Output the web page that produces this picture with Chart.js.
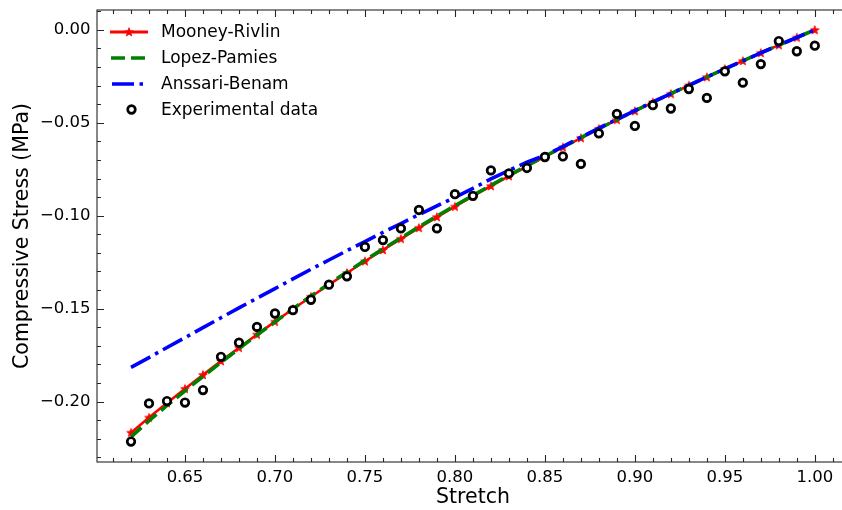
<!DOCTYPE html>
<html>
<head>
<meta charset="utf-8">
<script src="https://cdn.jsdelivr.net/npm/chart.js@4.4.1/dist/chart.umd.min.js"></script>
<style>
  html, body { margin: 0; padding: 0; background: #fff; overflow: hidden; width: 842px; height: 510px; }
  #wrap { width: 852px; height: 510px; }
</style>
</head>
<body>
<div id="wrap"><canvas id="c" width="852" height="510"></canvas></div>
<script>
// ---- data ----
const stretch = [0.62,0.63,0.64,0.65,0.66,0.67,0.68,0.69,0.70,0.71,0.72,0.73,0.74,0.75,0.76,0.77,0.78,0.79,0.80,
                 0.81,0.82,0.83,0.84,0.85,0.86,0.87,0.88,0.89,0.90,0.91,0.92,0.93,0.94,0.95,0.96,0.97,0.98,0.99,1.00];
const experimental = [-0.2215,-0.2010,-0.1997,-0.2005,-0.1938,-0.1759,-0.1683,-0.1598,-0.1526,-0.1508,-0.1452,-0.1371,-0.1326,
                      -0.1168,-0.1131,-0.1068,-0.0969,-0.1068,-0.0884,-0.0893,-0.0756,-0.0772,-0.0743,-0.0684,-0.0681,-0.0721,
                      -0.0557,-0.0452,-0.0517,-0.0405,-0.0423,-0.0318,-0.0366,-0.0223,-0.0284,-0.0184,-0.0060,-0.0115,-0.0085];
const mooneyRivlin = [-0.2167,-0.2086,-0.2008,-0.1931,-0.1856,-0.1782,-0.1710,-0.1639,-0.1570,-0.1502,-0.1436,-0.1371,-0.1308,
                      -0.1245,-0.1184,-0.1124,-0.1065,-0.1007,-0.0951,-0.0895,-0.0840,-0.0787,-0.0734,-0.0682,-0.0632,-0.0582,
                      -0.0532,-0.0484,-0.0437,-0.0390,-0.0344,-0.0299,-0.0254,-0.0210,-0.0167,-0.0124,-0.0082,-0.0041,0.0000];
const lopezPamies = [-0.2190,-0.2103,-0.2021,-0.1942,-0.1865,-0.1789,-0.1715,-0.1642,-0.1571,-0.1501,-0.1432,-0.1366,-0.1303,
                     -0.1240,-0.1179,-0.1119,-0.1060,-0.1002,-0.0946,-0.0891,-0.0836,-0.0783,-0.0731,-0.0680,-0.0630,-0.0580,
                     -0.0531,-0.0483,-0.0436,-0.0389,-0.0343,-0.0298,-0.0254,-0.0210,-0.0167,-0.0124,-0.0082,-0.0041,0.0000];
const anssariBenam = [-0.1816,-0.1763,-0.1709,-0.1656,-0.1602,-0.1549,-0.1496,-0.1444,-0.1392,-0.1340,-0.1288,-0.1238,-0.1188,
                      -0.1139,-0.1090,-0.1042,-0.0994,-0.0947,-0.0901,-0.0853,-0.0802,-0.0756,-0.0712,-0.0675,-0.0628,-0.0578,
                      -0.0529,-0.0481,-0.0434,-0.0388,-0.0343,-0.0298,-0.0253,-0.0210,-0.0167,-0.0124,-0.0082,-0.0041,0.0000];
const xMajorTicks = [0.65,0.70,0.75,0.80,0.85,0.90,0.95,1.00];
const yMajorTicks = [-0.20,-0.15,-0.10,-0.05,0.00];
const xMinorTicks = [0.61,0.62,0.63,0.64,0.66,0.67,0.68,0.69,0.71,0.72,0.73,0.74,0.76,0.77,0.78,0.79,0.81,0.82,0.83,0.84,
                     0.86,0.87,0.88,0.89,0.91,0.92,0.93,0.94,0.96,0.97,0.98,0.99,1.01];
const yMinorTicks = [-0.23,-0.22,-0.21,-0.19,-0.18,-0.17,-0.16,-0.14,-0.13,-0.12,-0.11,-0.09,-0.08,-0.07,-0.06,-0.04,-0.03,-0.02,-0.01,0.01];
const seriesNames = ['Mooney-Rivlin','Lopez-Pamies','Anssari-Benam','Experimental data'];

const FONT = "'DejaVu Sans', sans-serif";

// filled 5-point star marker (matplotlib '*')
function makeStar(color) {
  const c = document.createElement('canvas');
  c.width = 12; c.height = 12;
  const g = c.getContext('2d');
  const R = 4.6, r = 1.9, cx = 6, cy = 6.3;
  g.beginPath();
  for (let i = 0; i < 10; i++) {
    const a = -Math.PI / 2 + i * Math.PI / 5;
    const rr = i % 2 === 0 ? R : r;
    const px = cx + rr * Math.cos(a), py = cy + rr * Math.sin(a);
    if (i === 0) g.moveTo(px, py); else g.lineTo(px, py);
  }
  g.closePath();
  g.fillStyle = color; g.fill();
  g.lineWidth = 0.8; g.strokeStyle = color; g.stroke();
  return c;
}
const starImg = makeStar('#ff0000');

const toXY = arr => stretch.map((x, i) => ({x: x, y: arr[i]}));

const frameTicks = {
  id: 'frameTicks',
  afterDraw(chart) {
    const {ctx, chartArea: a, scales: {x, y}} = chart;
    ctx.save();
    ctx.strokeStyle = '#262626';
    ctx.lineWidth = 1.1;
    ctx.strokeRect(a.left, a.top, a.right - a.left, a.bottom - a.top);
    ctx.beginPath();
    const tick = (vals, len, horiz) => {
      vals.forEach(v => {
        if (horiz) {
          const px = Math.round(x.getPixelForValue(v)) + 0.5;
          ctx.moveTo(px, a.bottom); ctx.lineTo(px, a.bottom - len);
          ctx.moveTo(px, a.top); ctx.lineTo(px, a.top + len);
        } else {
          const py = Math.round(y.getPixelForValue(v)) + 0.5;
          ctx.moveTo(a.left, py); ctx.lineTo(a.left + len, py);
          ctx.moveTo(a.right, py); ctx.lineTo(a.right - len, py);
        }
      });
    };
    tick(xMajorTicks, 7, true);
    tick(xMinorTicks, 4, true);
    tick(yMajorTicks, 7, false);
    tick(yMinorTicks, 4, false);
    ctx.lineWidth = 1.1;
    ctx.stroke();

    // legend (upper left, no frame)
    const rows = [32, 58, 84, 109.5];
    const hx0 = 110, hx1 = 148, tx = 161;
    ctx.lineCap = 'butt';
    ctx.setLineDash([]);
    ctx.strokeStyle = '#ff0000'; ctx.lineWidth = 3;
    ctx.beginPath(); ctx.moveTo(hx0, rows[0]); ctx.lineTo(hx1, rows[0]); ctx.stroke();
    ctx.drawImage(starImg, (hx0 + hx1) / 2 - 6, rows[0] - 6);
    ctx.setLineDash([14, 6]);
    ctx.strokeStyle = '#008000'; ctx.lineWidth = 3.6;
    ctx.beginPath(); ctx.moveTo(hx0 + 1, rows[1]); ctx.lineTo(hx1 - 2, rows[1]); ctx.stroke();
    ctx.setLineDash([22, 5.5, 3.5, 5.5]);
    ctx.strokeStyle = '#0000ff'; ctx.lineWidth = 3.6;
    ctx.beginPath(); ctx.moveTo(hx0 + 2, rows[2]); ctx.lineTo(hx1, rows[2]); ctx.stroke();
    ctx.setLineDash([]);
    ctx.beginPath(); ctx.arc(131.5, rows[3], 3.8, 0, Math.PI * 2);
    ctx.fillStyle = '#fff'; ctx.fill();
    ctx.strokeStyle = '#000'; ctx.lineWidth = 2.7; ctx.stroke();
    ctx.fillStyle = '#000';
    ctx.font = "17px " + FONT;
    ctx.textBaseline = 'middle';
    ctx.textAlign = 'left';
    seriesNames.forEach((n, i) => ctx.fillText(n, tx, rows[i] + 1));
    ctx.restore();
  }
};

new Chart(document.getElementById('c'), {
  type: 'scatter',
  data: {
    datasets: [
      { label: seriesNames[3], data: toXY(experimental), order: 0, showLine: false,
        pointStyle: 'circle', pointRadius: 3.8, pointHoverRadius: 3.8, pointBorderWidth: 2.7,
        borderColor: '#000', backgroundColor: '#fff' },
      { label: seriesNames[2], data: toXY(anssariBenam), order: 1, showLine: true,
        borderColor: '#0000ff', borderWidth: 3.6, borderDash: [22, 5.5, 3.5, 5.5], pointRadius: 0,
        borderCapStyle: 'butt', tension: 0 },
      { label: seriesNames[1], data: toXY(lopezPamies), order: 2, showLine: true,
        borderColor: '#008000', borderWidth: 3.6, borderDash: [14, 6], pointRadius: 0,
        borderCapStyle: 'butt', tension: 0 },
      { label: seriesNames[0], data: toXY(mooneyRivlin), order: 3, showLine: true,
        borderColor: '#ff0000', borderWidth: 2.6, pointStyle: starImg, pointRadius: 4,
        backgroundColor: '#ff0000', tension: 0 }
    ]
  },
  options: {
    responsive: false,
    animation: false,
    events: [],
    layout: { autoPadding: false, padding: { left: 0, top: 10, right: 3, bottom: 0 } },
    plugins: { legend: { display: false }, tooltip: { enabled: false } },
    scales: {
      x: {
        type: 'linear', min: 0.6011, max: 1.019,
        afterBuildTicks: s => { s.ticks = xMajorTicks.map(v => ({value: v})); },
        afterFit: s => { s.height = 48; s.paddingLeft = 0; s.paddingRight = 0; s.paddingTop = 0; s.paddingBottom = 0; },
        grid: { display: false, drawTicks: false, tickLength: 0 },
        border: { display: false },
        ticks: { padding: 6, color: '#000', font: { family: FONT, size: 16.5 },
                 maxRotation: 0, autoSkip: false, callback: v => v.toFixed(2) },
        title: { display: true, text: 'Stretch', color: '#000',
                 font: { family: FONT, size: 20.5 }, padding: { top: 0, bottom: 0 } }
      },
      y: {
        type: 'linear', min: -0.2325, max: 0.0107,
        afterBuildTicks: s => { s.ticks = yMajorTicks.map(v => ({value: v})); },
        afterFit: s => { s.width = 97; s.paddingLeft = 0; s.paddingRight = 0; s.paddingTop = 0; s.paddingBottom = 0; },
        grid: { display: false, drawTicks: false, tickLength: 0 },
        border: { display: false },
        ticks: { padding: 6.5, color: '#000', font: { family: FONT, size: 16.5 }, autoSkip: false,
                 callback: v => v.toFixed(2).replace('-', '\u2212') },
        title: { display: true, text: 'Compressive Stress (MPa)', color: '#000',
                 font: { family: FONT, size: 20.5 }, padding: { top: 10, bottom: 0 } }
      }
    }
  },
  plugins: [frameTicks]
});
</script>
</body>
</html>
